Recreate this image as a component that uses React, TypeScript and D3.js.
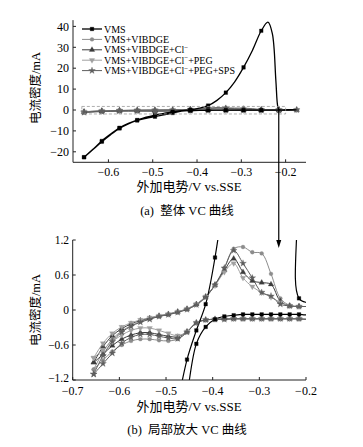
import React from "react";
import * as d3 from "d3";

// ---------- DATA ----------
const gridV = [-0.655, -0.635, -0.615, -0.595, -0.575, -0.555, -0.535, -0.515, -0.495, -0.475, -0.455, -0.435, -0.415, -0.395, -0.375, -0.355, -0.335, -0.315, -0.295, -0.275, -0.255, -0.235, -0.215, -0.195, -0.175];

// forward (anodic) scan current, mA, in gridV order
const vibdgeFwd = [-1.02, -0.72, -0.5, -0.36, -0.27, -0.2, -0.15, -0.11, -0.08, -0.04, 0.01, 0.09, 0.22, 0.43, 0.72, 1.05, 1.08, 0.99, 0.97, 0.62, 0.2, 0.08, 0.06, 0.06, 0.05];
const clFwd = [-0.9, -0.63, -0.44, -0.32, -0.24, -0.18, -0.14, -0.1, -0.07, -0.03, 0.02, 0.1, 0.23, 0.43, 0.68, 0.88, 0.65, 0.5, 0.47, 0.44, 0.15, 0.07, 0.06, 0.06, 0.05];
const pegFwd = [-0.82, -0.57, -0.4, -0.29, -0.22, -0.17, -0.13, -0.1, -0.07, -0.03, 0.02, 0.1, 0.23, 0.42, 0.65, 0.8, 0.55, 0.4, 0.3, 0.22, 0.13, 0.07, 0.06, 0.06, 0.05];
const spsFwd = [-1.1, -0.78, -0.54, -0.38, -0.28, -0.21, -0.16, -0.11, -0.08, -0.04, 0.01, 0.09, 0.22, 0.43, 0.72, 1.02, 0.8, 0.55, 0.3, 0.24, 0.1, 0.07, 0.06, 0.06, 0.05];

// reverse (cathodic) scan current, mA, in gridV order
const vibdgeRev = [-1.02, -0.86, -0.71, -0.6, -0.53, -0.5, -0.5, -0.52, -0.53, -0.5, -0.38, -0.22, -0.17, -0.16, -0.16, -0.15, -0.15, -0.15, -0.15, -0.15, -0.15, -0.15, -0.15, -0.15, -0.15];
const clRev = [-0.9, -0.76, -0.61, -0.5, -0.43, -0.39, -0.39, -0.42, -0.45, -0.46, -0.37, -0.22, -0.17, -0.16, -0.15, -0.15, -0.15, -0.15, -0.15, -0.15, -0.15, -0.15, -0.15, -0.15, -0.15];
const pegRev = [-0.82, -0.68, -0.54, -0.43, -0.35, -0.31, -0.31, -0.35, -0.4, -0.44, -0.37, -0.22, -0.17, -0.16, -0.15, -0.15, -0.15, -0.15, -0.15, -0.15, -0.15, -0.15, -0.15, -0.15, -0.15];
const spsRev = [-1.1, -0.92, -0.74, -0.57, -0.47, -0.42, -0.42, -0.45, -0.48, -0.49, -0.38, -0.22, -0.17, -0.16, -0.16, -0.15, -0.15, -0.15, -0.15, -0.15, -0.15, -0.15, -0.15, -0.15, -0.15];

// VMS full loop (forward then reverse)
const vmsV = [-0.655, -0.635, -0.615, -0.595, -0.575, -0.555, -0.535, -0.515, -0.495, -0.475, -0.455, -0.435, -0.415, -0.395, -0.375, -0.355, -0.335, -0.315, -0.295, -0.275, -0.255, -0.24, -0.23, -0.222, -0.218, -0.215, -0.195, -0.175,
  -0.195, -0.215, -0.235, -0.255, -0.275, -0.295, -0.315, -0.335, -0.355, -0.375, -0.395, -0.415, -0.435, -0.455, -0.475, -0.495, -0.515, -0.535, -0.555, -0.575, -0.595, -0.615, -0.635, -0.655];
const vmsI = [-22.6, -18.8, -14.8, -11.5, -8.5, -6.4, -4.8, -3.4, -2.4, -1.6, -0.85, -0.35, 0.1, 0.9, 2.1, 4.6, 8.3, 13.5, 20.4, 28.5, 37.9, 42, 36.5, 14, 2, 0.2, 0.12, 0.08,
  -0.075, -0.075, -0.075, -0.075, -0.075, -0.075, -0.075, -0.075, -0.09, -0.11, -0.16, -0.29, -0.58, -1.45, -2.3, -3.2, -4.0, -5.0, -6.6, -8.8, -11.8, -15.2, -18.9, -22.6];

const legendLabels = ["VMS", "VMS+VIBDGE", "VMS+VIBDGE+Cl", "VMS+VIBDGE+Cl", "VMS+VIBDGE+Cl"];
const legendTails = ["", "", "", "+PEG", "+PEG+SPS"];
const legendSup = [false, false, true, true, true];

const xTicksTop = [-0.6, -0.5, -0.4, -0.3, -0.2];
const yTicksTop = [40, 30, 20, 10, 0, -10, -20];
const xTicksBot = [-0.7, -0.6, -0.5, -0.4, -0.3, -0.2];
const yTicksBot = [1.2, 0.6, 0, -0.6, -1.2];

const yTitle = "电流密度/mA";
const xTitle = "外加电势/V vs.SSE";
const captionA = "(a)  整体 VC 曲线";
const captionB = "(b)  局部放大 VC 曲线";

// ---------- STYLE ----------
const FONT = "'Liberation Serif', 'Times New Roman', 'Noto Sans CJK SC', serif";
const CJK = "'Liberation Serif', 'Noto Sans CJK SC', serif";

type Pt = [number, number];
const loop = (fwd: number[], rev: number[]): Pt[] => {
  const a: Pt[] = gridV.map((v, i) => [v, fwd[i]]);
  const b: Pt[] = gridV.map((v, i) => [v, rev[i]] as Pt).reverse().slice(1);
  return a.concat(b);
};

const grays = [
  { name: "vibdge", pts: loop(vibdgeFwd, vibdgeRev), color: "#8c8c8c", sym: "circle" },
  { name: "cl", pts: loop(clFwd, clRev), color: "#3c3c3c", sym: "up" },
  { name: "peg", pts: loop(pegFwd, pegRev), color: "#a0a0a0", sym: "down" },
  { name: "sps", pts: loop(spsFwd, spsRev), color: "#5e5e5e", sym: "star" },
];
const vmsPts: Pt[] = vmsV.map((v, i) => [v, vmsI[i]]);

const symPath = (s: string) => {
  if (s === "circle") return d3.symbol(d3.symbolCircle, 12)()!;
  if (s === "up" || s === "down") return d3.symbol(d3.symbolTriangle, 13)()!;
  if (s === "star") return d3.symbol(d3.symbolStar, 14)()!;
  return d3.symbol(d3.symbolSquare, 13)()!;
};

const gridIndex = (v: number) => {
  const k = (v + 0.655) / 0.02;
  return Math.abs(k - Math.round(k)) < 1e-6 ? Math.round(k) : -1;
};

const fmt = (v: number) => (v === 0 ? "0" : (v < 0 ? "\u2212" : "") + Math.abs(v).toString());

function Marker({ x, y, s, color }: { x: number; y: number; s: string; color: string }) {
  const rot = s === "down" ? " rotate(180)" : "";
  return <path d={symPath(s)} transform={`translate(${x},${y})${rot}`} fill={color} stroke={color} strokeWidth={0.3} />;
}

export default function App() {
  // top panel scales
  const xT = d3.scaleLinear().domain([-0.68, -0.154]).range([73, 306]);
  const yT = d3.scaleLinear().domain([0, 40]).range([110, 26.4]);
  const topBottom = 162.3;
  const topTopY = yT(43);
  // bottom panel scales
  const xB = d3.scaleLinear().domain([-0.7, -0.2]).range([72.7, 306]);
  const yB = d3.scaleLinear().domain([-1.2, 1.2]).range([380, 240]);

  const lineT = d3.line<Pt>().x(d => xT(d[0])).y(d => yT(d[1])).curve(d3.curveCatmullRom.alpha(0.5));
  const lineB = d3.line<Pt>().x(d => xB(d[0])).y(d => yB(d[1])).curve(d3.curveCatmullRom.alpha(0.5));

  const arrowX = xT(-0.2155);
  const arrowTip = 248;

  return (
    <svg width={363} height={447} style={{ position: "absolute", left: 0, top: 0, background: "#fff" }} fontFamily={FONT}>
      <defs>
        <clipPath id="clipB">
          <rect x={xB(-0.7)} y={yB(1.2)} width={xB(-0.2) - xB(-0.7)} height={yB(-1.2) - yB(1.2)} />
        </clipPath>
        <clipPath id="clipT">
          <rect x={73} y={12} width={240} height={topBottom - 12} />
        </clipPath>
      </defs>

      {/* ===== TOP PANEL ===== */}
      <g clipPath="url(#clipT)">
        {grays.map(g => (
          <path key={g.name} d={lineT(g.pts)!} fill="none" stroke={g.color} strokeWidth={1} />
        ))}
        {grays.map(g =>
          g.pts.filter(p => { const k = gridIndex(p[0]); return k >= 0 && k % 2 === 0; }).map((p, i) => (
            <Marker key={g.name + i} x={xT(p[0])} y={yT(p[1])} s={g.sym} color={g.color} />
          ))
        )}
        <path d={lineT(vmsPts)!} fill="none" stroke="#000" strokeWidth={1.3} />
        {vmsPts.filter(p => { const k = gridIndex(p[0]); return k >= 0 && k % 2 === 0 && k < 22; }).map((p, i) => (
          <Marker key={"vt" + i} x={xT(p[0])} y={yT(p[1])} s="square" color="#000" />
        ))}
      </g>
      {/* dashed zoom rectangle */}
      <rect x={xT(-0.66)} y={yT(1.7)} width={xT(-0.2) - xT(-0.66)} height={yT(-1.9) - yT(1.7)} fill="none" stroke="#9a9a9a" strokeWidth={0.8} strokeDasharray="3,2" />

      {/* top axes */}
      <line x1={73} x2={73} y1={topTopY} y2={topBottom} stroke="#222" strokeWidth={1} />
      <line x1={73} x2={306} y1={topBottom} y2={topBottom} stroke="#222" strokeWidth={1} />
      {yTicksTop.map(t => (
        <g key={"yt" + t}>
          <line x1={73} x2={76} y1={yT(t)} y2={yT(t)} stroke="#222" />
          <text x={69} y={yT(t)} dy="0.35em" textAnchor="end" fontSize={12}>{fmt(t)}</text>
        </g>
      ))}
      {xTicksTop.map(t => (
        <g key={"xt" + t}>
          <line x1={xT(t)} x2={xT(t)} y1={topBottom} y2={topBottom - 3} stroke="#222" />
          <text x={xT(t)} y={176} textAnchor="middle" fontSize={12}>{fmt(t)}</text>
        </g>
      ))}
      <text transform={`translate(40,88) rotate(-90)`} textAnchor="middle" fontSize={12.5} fontFamily={CJK}>{yTitle}</text>
      <text x={189} y={191} textAnchor="middle" fontSize={13} fontFamily={CJK}>{xTitle}</text>
      <text x={187} y={215} textAnchor="middle" fontSize={12.5} fontFamily={CJK} style={{ whiteSpace: "pre" }}>{captionA}</text>

      {/* legend */}
      {legendLabels.map((lab, i) => {
        const yy = 29 + i * 10.4;
        const color = i === 0 ? "#000" : grays[i - 1].color;
        const sym = i === 0 ? "square" : grays[i - 1].sym;
        return (
          <g key={"lg" + i}>
            <line x1={82} x2={102} y1={yy} y2={yy} stroke={color} strokeWidth={i === 0 ? 1.3 : 1} />
            <Marker x={92} y={yy} s={sym} color={color} />
            <text x={104} y={yy} dy="0.35em" fontSize={10}>
              {lab}
              {legendSup[i] ? <tspan dy={-3.5} fontSize={7}>{"\u2212"}</tspan> : null}
              {legendSup[i] ? <tspan dy={3.5}>{legendTails[i]}</tspan> : null}
            </text>
          </g>
        );
      })}

      {/* arrow linking panels */}
      <line x1={arrowX} x2={arrowX} y1={yT(0)} y2={arrowTip - 6} stroke="#000" strokeWidth={1.2} />
      <path d={`M${arrowX - 2.5},${arrowTip - 8} L${arrowX + 2.5},${arrowTip - 8} L${arrowX},${arrowTip} Z`} fill="#000" />

      {/* ===== BOTTOM PANEL ===== */}
      <g clipPath="url(#clipB)">
        {grays.map(g => (
          <path key={"b" + g.name} d={lineB(g.pts)!} fill="none" stroke={g.color} strokeWidth={1} />
        ))}
        <path d={lineB(vmsPts)!} fill="none" stroke="#000" strokeWidth={1.2} />
      </g>
      {grays.map(g =>
        g.pts.filter(p => gridIndex(p[0]) >= 0 && p[0] <= -0.199 && p[1] >= -1.2 && p[1] <= 1.2).map((p, i) => (
          <Marker key={"bm" + g.name + i} x={xB(p[0])} y={yB(p[1])} s={g.sym} color={g.color} />
        ))
      )}
      {vmsPts.filter(p => gridIndex(p[0]) >= 0 && p[0] <= -0.199 && p[1] >= -1.2 && p[1] <= 1.2).map((p, i) => (
        <Marker key={"bv" + i} x={xB(p[0])} y={yB(p[1])} s="square" color="#000" />
      ))}

      <line x1={xB(-0.7)} x2={xB(-0.7)} y1={yB(1.2)} y2={yB(-1.2)} stroke="#222" />
      <line x1={xB(-0.7)} x2={xB(-0.2)} y1={yB(-1.2)} y2={yB(-1.2)} stroke="#222" />
      {yTicksBot.map(t => (
        <g key={"yb" + t}>
          <line x1={xB(-0.7)} x2={xB(-0.7) + 3} y1={yB(t)} y2={yB(t)} stroke="#222" />
          <text x={69} y={yB(t) - (t === -1.2 ? 2.5 : 0)} dy="0.35em" textAnchor="end" fontSize={11.5}>{fmt(t)}</text>
        </g>
      ))}
      {xTicksBot.map(t => (
        <g key={"xb" + t}>
          <line x1={xB(t)} x2={xB(t)} y1={yB(-1.2)} y2={yB(-1.2) - 3} stroke="#222" />
          <text x={xB(t)} y={395} textAnchor="middle" fontSize={12}>{fmt(t)}</text>
        </g>
      ))}
      <text transform={`translate(40,310) rotate(-90)`} textAnchor="middle" fontSize={12.5} fontFamily={CJK}>{yTitle}</text>
      <text x={189} y={411} textAnchor="middle" fontSize={13} fontFamily={CJK}>{xTitle}</text>
      <text x={187} y={434} textAnchor="middle" fontSize={12.5} fontFamily={CJK} style={{ whiteSpace: "pre" }}>{captionB}</text>
    </svg>
  );
}
